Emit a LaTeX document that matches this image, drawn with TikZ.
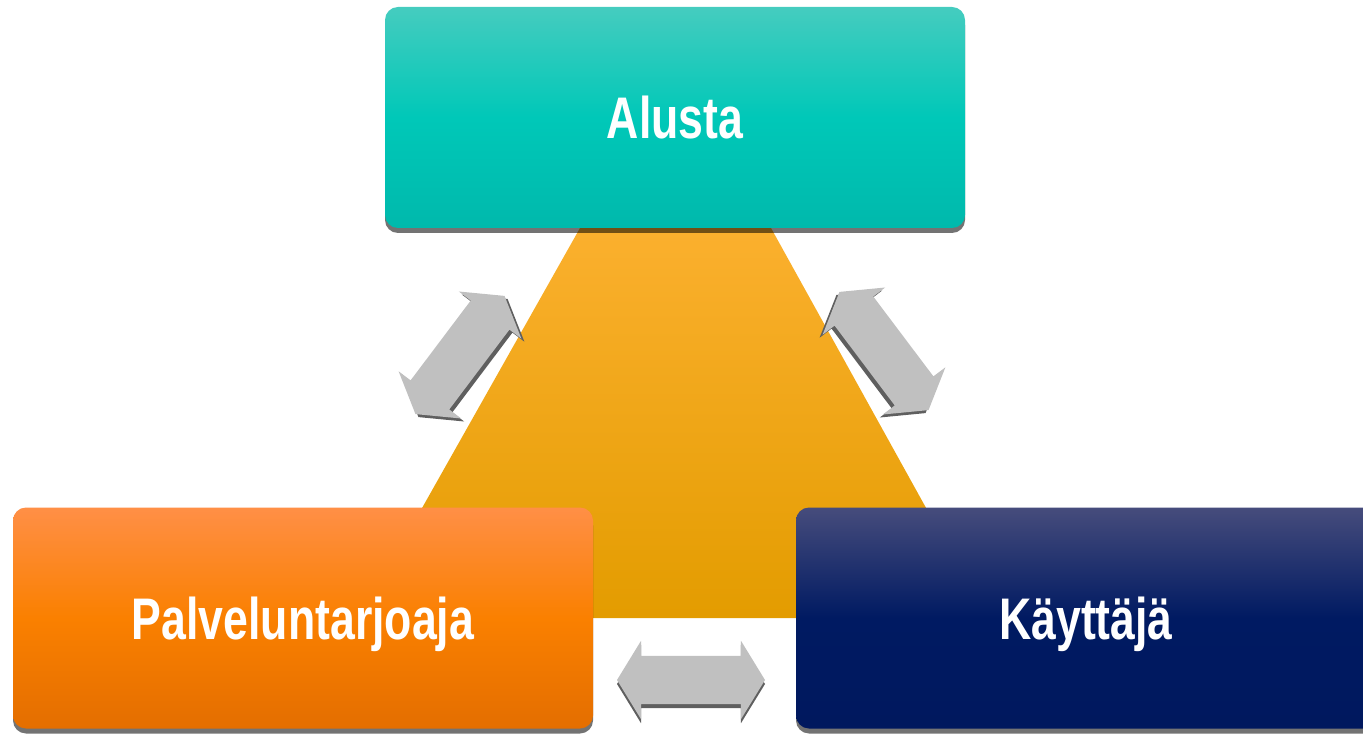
\documentclass[tikz,border=0pt]{standalone}
\usepackage{fontspec}
\usepackage{graphicx}
\setmainfont{Liberation Sans}
\usetikzlibrary{shapes.arrows,shadows}
\definecolor{tealTop}{HTML}{45CCBF}
\definecolor{tealMid}{HTML}{00C8B8}
\definecolor{tealBot}{HTML}{00B9AC}
\definecolor{orTop}{HTML}{FF8F46}
\definecolor{orMid}{HTML}{FA8000}
\definecolor{orBot}{HTML}{E46E00}
\definecolor{navTop}{HTML}{464C7C}
\definecolor{navMid}{HTML}{001A62}
\definecolor{navBot}{HTML}{00185E}
\definecolor{triTop}{HTML}{FBB02E}
\definecolor{triBot}{HTML}{E39C00}
\definecolor{arrowgray}{HTML}{C0C0C0}
\definecolor{arrowdark}{HTML}{5F5F5F}
\begin{document}
\begin{tikzpicture}[x=1pt,y=-1pt,
  box/.style={rectangle, rounded corners=13pt, minimum width=580pt, minimum height=221pt,
    inner sep=0pt, text=white, font=\fontsize{58.7}{60}\selectfont\bfseries,
    text height=42pt, text depth=0pt,
    drop shadow={shadow xshift=0pt, shadow yshift=-5pt, fill=black, opacity=0.55}},
  dblarr/.style={double arrow, minimum height=148pt, minimum width=78pt,
    double arrow head extend=15pt, double arrow tip angle=117,
    inner xsep=0pt, inner ysep=24pt,
    draw=none, fill=arrowgray},
  arrshadow/.style={dblarr, fill=arrowdark}
]
\useasboundingbox (0,0) rectangle (1363,735);
\clip (0,0) rectangle (1363,735);
% central trapezoid
\shade[top color=triTop, bottom color=triBot]
  (580,228) -- (771,228) -- (987,618) -- (360,618) -- cycle;
% arrows
\node[arrshadow, rotate=53] (lshadow) at (463,358) {};
\node[dblarr, rotate=53] (larrow) at (460,355) {};
\node[arrshadow, rotate=127] (rshadow) at (881,354) {};
\node[dblarr, rotate=127] (rarrow) at (884,351) {};
\node[arrshadow] (bshadow) at (691,684) {};
\node[dblarr] (barrow) at (691,680) {};
% boxes
\node[box, top color=tealTop, bottom color=tealBot, middle color=tealMid] (alusta)
  at (675,117.5) {\scalebox{0.76}[1]{Alusta}};
\node[box, top color=orTop, bottom color=orBot, middle color=orMid] (palv)
  at (303,618) {\scalebox{0.76}[1]{Palveluntarjoaja}};
\node[box, top color=navTop, bottom color=navBot, middle color=navMid] (kayt)
  at (1086,618) {\scalebox{0.76}[1]{Käyttäjä}};
\end{tikzpicture}
\end{document}
